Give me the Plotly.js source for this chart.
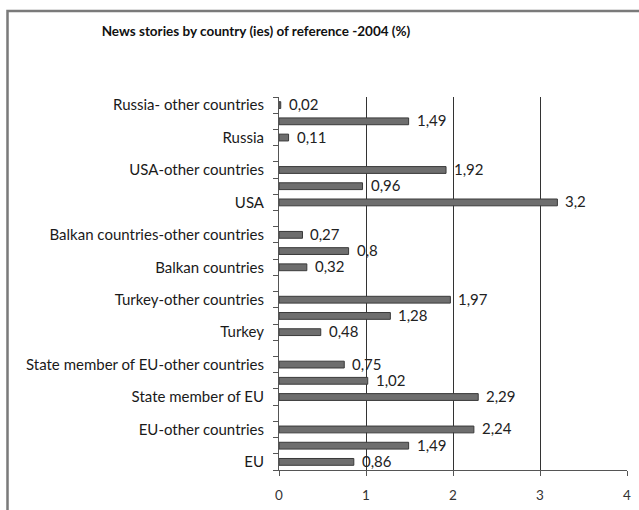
<!DOCTYPE html>
<html>
<head>
<meta charset="utf-8">
<script src="https://cdn.plot.ly/plotly-3.0.1.min.js"></script>
<style>html,body{margin:0;padding:0;background:#fff;}#chart{width:639px;height:510px;}</style>
</head>
<body>
<div id="chart"></div>
<script>
// Rows from top to bottom; "" = unlabeled row, null value = empty spacer row
const categories = [
  "Russia- other countries", "", "Russia", "",
  "USA-other countries", "", "USA", "",
  "Balkan countries-other countries", "", "Balkan countries", "",
  "Turkey-other countries", "", "Turkey", "",
  "State member of EU-other countries", "", "State member of EU", "",
  "EU-other countries", "", "EU"
];
const values = [
  0.02, 1.49, 0.11, null,
  1.92, 0.96, 3.2, null,
  0.27, 0.8, 0.32, null,
  1.97, 1.28, 0.48, null,
  0.75, 1.02, 2.29, null,
  2.24, 1.49, 0.86
];
const xTicks = [0, 1, 2, 3, 4];
const titleText = "News stories by country (ies) of reference -2004 (%)";

const idx = categories.map((_, i) => i);
const barX = [], barY = [];
values.forEach((v, i) => { if (v !== null) { barX.push(v); barY.push(i); } });

const font = "Lato, 'Open Sans', sans-serif";
const n = categories.length;
const boundaries = [];
for (let i = 0; i <= n; i++) boundaries.push(i - 0.5);

const annotations = barX.map((v, k) => ({
  x: v, y: barY[k], xref: "x", yref: "y",
  text: String(v).replace(".", ","),
  showarrow: false, xanchor: "left", yanchor: "middle", xshift: 6, yshift: 1,
  font: {family: font, size: 15, color: "#222"}
}));

const data = [{
  type: "bar", orientation: "h",
  x: barX, y: barY,
  width: 0.42,
  marker: {color: "#6e6e6e", line: {color: "#3a3a3a", width: 1}},
  hoverinfo: "skip"
}, {
  type: "scatter", mode: "markers", x: [0], y: [0], yaxis: "y2",
  marker: {opacity: 0}, hoverinfo: "skip", showlegend: false
}];

const layout = {
  width: 639, height: 510,
  margin: {l: 279, r: 12, t: 97, b: 40},
  paper_bgcolor: "#fff", plot_bgcolor: "#fff",
  showlegend: false,
  title: {
    text: "<b>" + titleText + "</b>",
    font: {family: font, size: 13.5, color: "#111"},
    xref: "container", x: 256 / 639, xanchor: "center",
    yref: "container", y: 1 - 31 / 510, yanchor: "middle"
  },
  xaxis: {
    range: [0, 4], tickmode: "array", tickvals: xTicks,
    ticktext: xTicks.map(String),
    showgrid: true, gridcolor: "#333", gridwidth: 1,
    showline: true, linecolor: "#555", linewidth: 1,
    ticks: "outside", ticklen: 5, tickcolor: "#555",
    ticklabelstandoff: 8,
    zeroline: false,
    tickfont: {family: font, size: 13.5, color: "#333"},
    fixedrange: true
  },
  yaxis: {
    range: [n - 0.5, -0.5],
    tickmode: "array", tickvals: boundaries, ticktext: boundaries.map(() => ""),
    ticks: "outside", ticklen: 5, tickcolor: "#555",
    showline: true, linecolor: "#555", linewidth: 1,
    showgrid: false, zeroline: false, fixedrange: true
  },
  yaxis2: {
    overlaying: "y", side: "left",
    range: [n - 0.5, -0.5],
    tickmode: "array", tickvals: idx, ticktext: categories,
    ticks: "", showline: false, showgrid: false, zeroline: false,
    ticklabelstandoff: 14,
    tickfont: {family: font, size: 15, color: "#1a1a1a"},
    fixedrange: true
  },
  annotations: annotations,
  shapes: [{
    type: "path", xref: "paper", yref: "paper",
    path: "M 1.1 " + ((470 - 11) / 373) + " L " + ((7.5 - 279) / 348) + " " + ((470 - 11) / 373) +
          " L " + ((7.5 - 279) / 348) + " -0.2",
    line: {color: "#7a7a7a", width: 2.5}
  }]
};

Plotly.newPlot("chart", data, layout, {displayModeBar: false, staticPlot: true});
</script>
</body>
</html>
